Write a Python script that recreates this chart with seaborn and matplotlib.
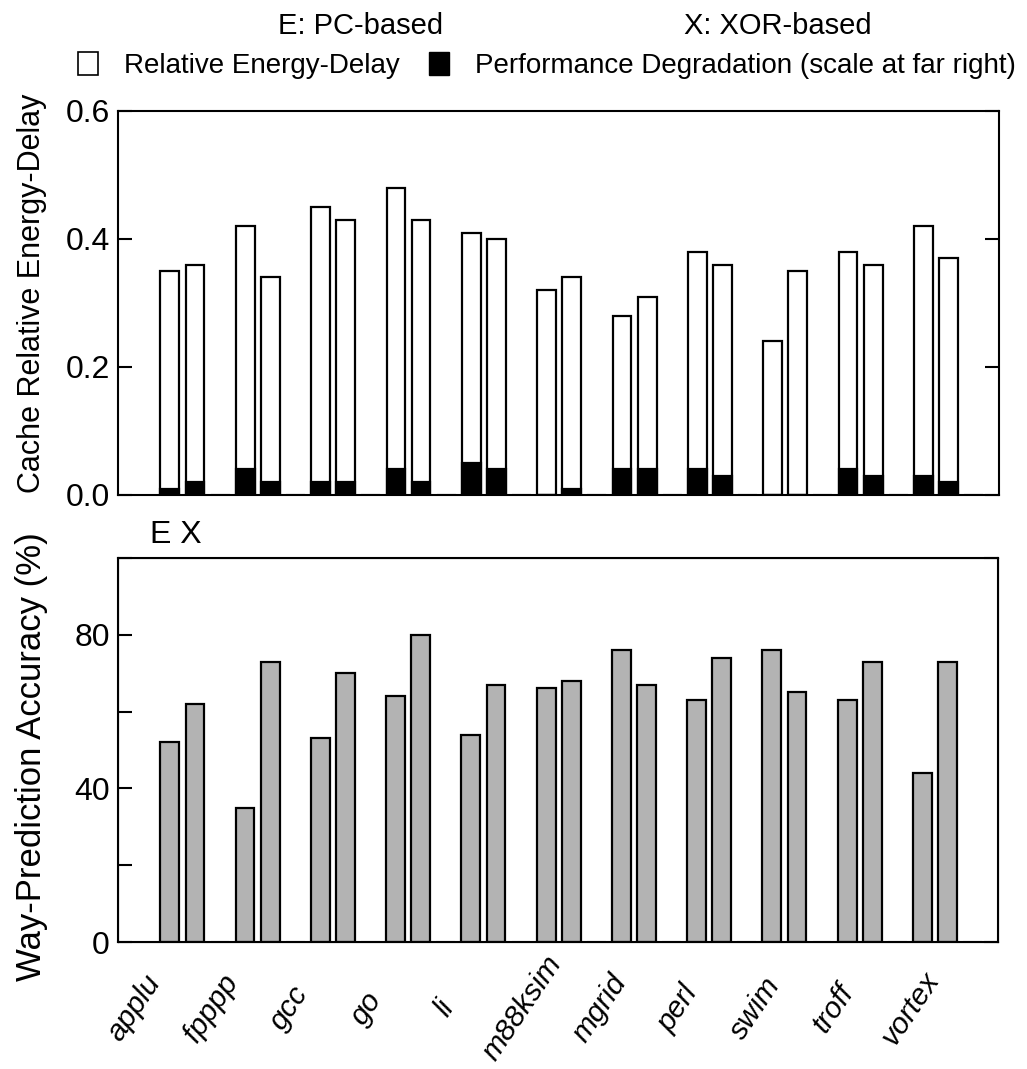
import pandas as pd
import seaborn as sns
import matplotlib.pyplot as plt
from matplotlib.patches import Patch
from matplotlib.ticker import FixedLocator
import matplotlib.transforms as mtransforms

# Benchmarks and the two way-prediction schemes
benchmarks = ["applu", "fpppp", "gcc", "go", "li", "m88ksim",
              "mgrid", "perl", "swim", "troff", "vortex"]
schemes = ["E", "X", "gap"]

# Cache relative energy-delay (white bars)
energy_E = [0.35, 0.42, 0.45, 0.48, 0.41, 0.32, 0.28, 0.38, 0.24, 0.38, 0.42]
energy_X = [0.36, 0.34, 0.43, 0.43, 0.40, 0.34, 0.31, 0.36, 0.35, 0.36, 0.37]

# Performance degradation (black bars, drawn on the same scale)
perf_E = [0.01, 0.04, 0.02, 0.04, 0.05, 0.00, 0.04, 0.04, 0.00, 0.04, 0.03]
perf_X = [0.02, 0.02, 0.02, 0.02, 0.04, 0.01, 0.04, 0.03, 0.00, 0.03, 0.02]

# Way-prediction accuracy (%)
acc_E = [52, 35, 53, 64, 54, 66, 76, 63, 76, 63, 44]
acc_X = [62, 73, 70, 80, 67, 68, 67, 74, 65, 73, 73]

n = len(benchmarks)
zeros = [0] * n
df = pd.DataFrame({
    "bench": benchmarks * 3,
    "scheme": ["E"] * n + ["X"] * n + ["gap"] * n,
    "energy": energy_E + energy_X + zeros,
    "perf": perf_E + perf_X + zeros,
    "acc": acc_E + acc_X + zeros,
})

sns.set_style("ticks")
plt.rcParams["font.family"] = ["Liberation Sans", "DejaVu Sans"]
for key in ["text.color", "axes.labelcolor", "xtick.color", "ytick.color", "axes.edgecolor"]:
    plt.rcParams[key] = "black"

fig = plt.figure(figsize=(10.27, 10.69), dpi=100)
ax1 = fig.add_axes([0.1149, 0.5370, 0.8578, 0.3592])
ax2 = fig.add_axes([0.1149, 0.1185, 0.8568, 0.3598])

bar_kw = dict(x="bench", hue="scheme", hue_order=schemes, width=1.0, gap=0.25,
              edgecolor="black", linewidth=1.6, errorbar=None, legend=False,
              order=benchmarks)

sns.barplot(data=df, y="energy", palette={"E": "white", "X": "white", "gap": "white"},
            ax=ax1, **bar_kw)
sns.barplot(data=df, y="perf", palette={"E": "black", "X": "black", "gap": "white"},
            ax=ax1, **bar_kw)
sns.barplot(data=df, y="acc", palette={"E": "#b3b3b3", "X": "#b3b3b3", "gap": "white"},
            ax=ax2, **bar_kw)

# zero-height spacer bars show as faint dashes on the baseline
for ax, idx in [(ax1, [2, 5]), (ax2, [2])]:
    for i in idx:
        for p in ax.containers[i]:
            p.set_edgecolor("#c0c0c0")

for ax in (ax1, ax2):
    ax.set_xlim(-1.022, 10.67)
    for s in ax.spines.values():
        s.set_visible(True)
        s.set_linewidth(1.5)
    ax.set_xlabel("")

# top panel
ax1.set_ylim(0, 0.6)
ax1.set_yticks([0, 0.2, 0.4, 0.6])
ax1.set_yticklabels(["0.0", "0.2", "0.4", "0.6"])
ax1.set_xticks([])
ax1.tick_params(axis="y", direction="in", length=10, width=1.5, labelsize=23, right=True, pad=6)
ax1.set_ylabel("Cache Relative Energy-Delay", fontsize=22)
ax1.yaxis.set_label_coords(-0.081, 0.526)

# bottom panel
ax2.set_ylim(0, 100)
ax2.set_yticks([0, 40, 80])
ax2.yaxis.set_minor_locator(FixedLocator([20, 60, 100]))
ax2.tick_params(axis="y", which="both", direction="in", length=10, width=1.5, labelsize=23, pad=6)
ax2.set_ylabel("Way-Prediction Accuracy (%)", fontsize=25)
ax2.yaxis.set_label_coords(-0.080, 0.482)
ax2.tick_params(axis="x", length=0, pad=0)
ax2.set_xticks(range(n))
ax2.set_xticklabels(benchmarks, rotation=56, ha="center", va="center",
                    rotation_mode="anchor", fontsize=21.5, style="italic")
for i, lab in enumerate(ax2.get_xticklabels()):
    dx = (-61 + 2.45 * i) / 100
    lab.set_transform(lab.get_transform()
                      + mtransforms.ScaledTranslation(dx, -0.66, fig.dpi_scale_trans))

ax2r = ax2.twinx()
ax2r.set_ylim(0, 100)
ax2r.set_yticks([0, 100])
ax2r.set_yticklabels([])
ax2r.tick_params(axis="y", direction="in", length=10, width=1.5)

trans = mtransforms.blended_transform_factory(ax2.transData, ax2.transAxes)
ax2.text(-0.25, 1.02, "E X", transform=trans, ha="center", va="bottom", fontsize=23)

# legend and scheme key
fig.text(0.351, 0.9757, "E: PC-based", ha="center", va="center", fontsize=21)
fig.text(0.757, 0.9757, "X: XOR-based", ha="center", va="center", fontsize=21)
handles = [Patch(facecolor="white", edgecolor="black", linewidth=1.2),
           Patch(facecolor="black", edgecolor="black")]
fig.legend(handles, ["Relative Energy-Delay", "Performance Degradation (scale at far right)"],
           loc="center left", bbox_to_anchor=(0.076, 0.939), ncol=2, frameon=False,
           fontsize=20, handlelength=0.72, handleheight=0.9, handletextpad=0.94,
           columnspacing=1.04, borderaxespad=0, borderpad=0)

plt.savefig("out.png", dpi=100)
plt.close()
